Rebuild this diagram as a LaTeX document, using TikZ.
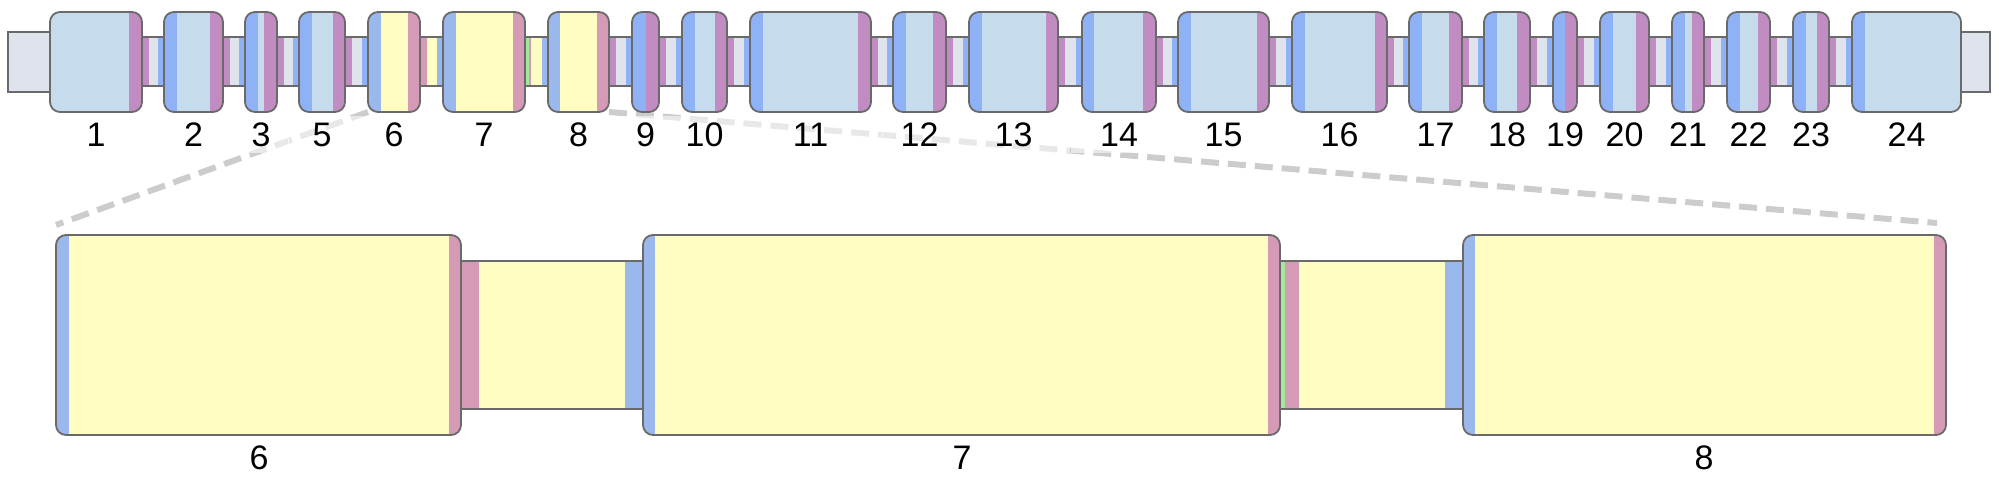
\documentclass[tikz,border=0pt]{standalone}
\usepackage{fontspec}
\setmainfont{Liberation Sans}
\definecolor{lb}{HTML}{C6DCEC}
\definecolor{sb}{HTML}{8FB1F6}
\definecolor{mg}{HTML}{C18CC1}
\definecolor{ig}{HTML}{DFE3EC}
\definecolor{yl}{HTML}{FFFDC1}
\definecolor{pk}{HTML}{D59AB5}
\definecolor{by}{HTML}{9BB8EC}
\definecolor{gr}{HTML}{A2E79B}
\definecolor{ol}{HTML}{6A6A6A}
\definecolor{dsh}{HTML}{CCCCCC}
\tikzset{
  outl/.style={draw=ol, line width=1.8pt},
  zoomline/.style={draw=dsh, line width=6pt, dash pattern=on 18pt off 9pt},
  toplabel/.style={fill=white, fill opacity=0.55, text opacity=1, inner sep=0pt,
     minimum height=37pt, font=\fontsize{34}{38}\selectfont, text=black},
  botlabel/.style={inner sep=0pt, font=\fontsize{34}{38}\selectfont, text=black},
}
% exon: x1,x2,y1,y2,fill,lcol,lw,rcol,rw
\newcommand\exbox[9]{%
  \begin{scope}
    \clip[rounded corners=10pt] (#1,#3) rectangle (#2,#4);
    \fill[#5] (#1,#3) rectangle (#2,#4);
    \fill[#6] (#1,#3) rectangle ({#1+#7},#4);
    \fill[#8] ({#2-#9},#3) rectangle (#2,#4);
  \end{scope}
  \draw[outl, rounded corners=10pt] (#1,#3) rectangle (#2,#4);
}
% intron: x1,x2,y1,y2,fill,lcol,lw,rcol,rw
\newcommand\inbox[9]{%
  \fill[#5] (#1-3,#3) rectangle (#2+3,#4);
  \fill[#6] (#1-3,#3) rectangle ({#1+#7},#4);
  \fill[#8] ({#2-#9},#3) rectangle (#2+3,#4);
  \draw[outl] (#1-3,#3) -- (#2+3,#3) (#1-3,#4) -- (#2+3,#4);
}
\begin{document}
\begin{tikzpicture}[x=1pt,y=-1pt]
\useasboundingbox (0,0) rectangle (1999,483);
% zoom guide lines
\coordinate (e6bl) at (368,112);
\coordinate (z6tl) at (56,225);
\coordinate (e8br) at (609,112);
\coordinate (z8tr) at (1937,223);
\draw[zoomline] (e6bl) -- (z6tl);
\draw[zoomline] (e8br) -- (z8tr);
% top row: stubs
\draw[outl, fill=ig] (60,32) -- (8,32) -- (8,92) -- (60,92);
\draw[outl, fill=ig] (1950,32) -- (1990,32) -- (1990,92) -- (1950,92);
% top row introns
\foreach \a/\b in {142/164,223/245,277/299,345/368,609/632,659/682,727/750,871/893,946/969,1058/1082,1156/1178,1269/1292,1387/1409,1462/1484,1530/1553,1577/1600,1649/1672,1704/1727,1770/1793,1829/1852}
  {\inbox{\a}{\b}{37}{86}{ig}{mg}{7}{sb}{6}}
\inbox{420}{443}{37}{86}{yl}{pk}{7}{by}{6}
\inbox{525}{548}{37}{86}{yl}{gr}{4}{by}{6}
\fill[pk] (529,37) rectangle (531,86);
\draw[outl] (522,37) -- (551,37) (522,86) -- (551,86);
% top row exons
\exbox{50}{142}{12}{112}{lb}{lb}{0}{mg}{13}
\exbox{164}{223}{12}{112}{lb}{sb}{13}{mg}{13}
\exbox{245}{277}{12}{112}{lb}{sb}{13}{mg}{13}
\exbox{299}{345}{12}{112}{lb}{sb}{13}{mg}{12}
\exbox{368}{420}{12}{112}{yl}{by}{13}{pk}{12}
\exbox{443}{525}{12}{112}{yl}{by}{13}{pk}{12}
\exbox{548}{609}{12}{112}{yl}{by}{12}{pk}{12}
\exbox{632}{659}{12}{112}{lb}{sb}{14}{mg}{13}
\exbox{682}{727}{12}{112}{lb}{sb}{13}{mg}{12}
\exbox{750}{871}{12}{112}{lb}{sb}{13}{mg}{13}
\exbox{893}{946}{12}{112}{lb}{sb}{13}{mg}{13}
\exbox{969}{1058}{12}{112}{lb}{sb}{13}{mg}{12}
\exbox{1082}{1156}{12}{112}{lb}{sb}{12}{mg}{13}
\exbox{1178}{1269}{12}{112}{lb}{sb}{13}{mg}{12}
\exbox{1292}{1387}{12}{112}{lb}{sb}{13}{mg}{12}
\exbox{1409}{1462}{12}{112}{lb}{sb}{13}{mg}{13}
\exbox{1484}{1530}{12}{112}{lb}{sb}{13}{mg}{13}
\exbox{1553}{1577}{12}{112}{lb}{sb}{12}{mg}{12}
\exbox{1600}{1649}{12}{112}{lb}{sb}{13}{mg}{13}
\exbox{1672}{1704}{12}{112}{lb}{sb}{13}{mg}{12}
\exbox{1727}{1770}{12}{112}{lb}{sb}{13}{mg}{12}
\exbox{1793}{1829}{12}{112}{lb}{sb}{13}{mg}{12}
\exbox{1852}{1961}{12}{112}{lb}{sb}{13}{lb}{0}
% top labels
\foreach \n/\c/\w in {1/96/115,2/193.5/82,3/261/55,5/322/69,6/394/75,7/484/105,8/578.5/84,9/645.5/50,10/704.5/68,11/810.5/144,12/919.5/76,13/1013.5/112,14/1119/97,15/1223.5/114,16/1339.5/118,17/1435.5/76,18/1507/69,19/1565/47,20/1624.5/72,21/1688/55,22/1748.5/66,23/1811/59,24/1906.5/132}
  {\node[toplabel, minimum width=\w pt] (t\n) at (\c,134.5) {\n};}
% bottom row (zoom of exons 6-8)
\inbox{461}{643}{261}{409}{yl}{pk}{18}{by}{18}
\inbox{1280}{1463}{261}{409}{yl}{gr}{5}{by}{18}
\fill[pk] (1285,261) rectangle (1299,409);
\draw[outl] (1277,261) -- (1466,261) (1277,409) -- (1466,409);
\exbox{56}{461}{235}{435}{yl}{by}{13}{pk}{12}
\exbox{643}{1280}{235}{435}{yl}{by}{12}{pk}{12}
\exbox{1463}{1946}{235}{435}{yl}{by}{12}{pk}{12}
\node[botlabel] (b6) at (259,458) {6};
\node[botlabel] (b7) at (962,458) {7};
\node[botlabel] (b8) at (1704,458) {8};
\end{tikzpicture}
\end{document}
